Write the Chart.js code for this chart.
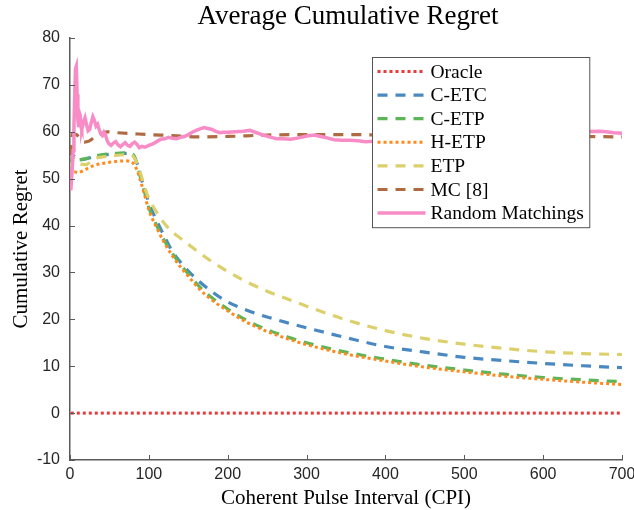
<!DOCTYPE html>
<html>
<head>
<meta charset="utf-8">
<script src="https://cdn.jsdelivr.net/npm/chart.js@4.4.1/dist/chart.umd.min.js"></script>
<style>
  html, body { margin: 0; padding: 0; background: #fff; }
  #regret { display: block; }
</style>
</head>
<body>
<canvas id="regret" width="634" height="510"></canvas>
<script>
// CPI sample points shared by the smooth explore/exploit curves
const cpiGrid = [1, 5, 10, 20, 30, 40, 50, 60, 70, 75, 80, 85, 90, 95, 100, 110, 120, 130, 140, 150,
  165, 180, 200, 225, 250, 275, 300, 350, 400, 450, 500, 550, 600, 650, 700];

const cEtc = [53.0, 54.8, 54.0, 54.2, 54.7, 55.0, 55.2, 55.3, 55.4, 55.4, 55.1, 53.3, 50.2, 47.5, 44.8, 41.0, 37.6, 34.4, 32.2, 30.3,
  27.9, 25.9, 23.7, 21.9, 20.5, 19.3, 18.2, 16.1, 14.2, 13.0, 11.9, 11.2, 10.6, 10.1, 9.7];
const cEtp = [53.0, 55.0, 54.0, 54.3, 54.8, 55.1, 55.3, 55.4, 55.5, 55.5, 55.2, 53.2, 49.8, 46.8, 43.8, 40.0, 36.7, 34.0, 31.7, 29.7,
  26.8, 24.6, 22.2, 19.7, 17.8, 16.3, 15.0, 13.0, 11.5, 10.2, 9.2, 8.3, 7.6, 7.1, 6.7];
const hEtp = [50.5, 51.5, 51.3, 52.0, 52.8, 53.2, 53.5, 53.7, 53.8, 53.7, 53.3, 51.8, 49.2, 46.3, 43.3, 39.5, 36.2, 33.5, 31.2, 29.2,
  26.3, 24.1, 21.8, 19.3, 17.4, 15.9, 14.6, 12.6, 11.1, 9.8, 8.8, 7.9, 7.2, 6.6, 6.1];
const etp = [52.5, 54.3, 53.3, 53.0, 54.2, 54.6, 54.8, 55.0, 55.1, 55.1, 54.8, 53.3, 50.8, 48.0, 45.8, 42.8, 40.4, 38.6, 37.3, 36.0,
  34.1, 32.3, 30.2, 27.9, 26.0, 24.4, 22.8, 19.9, 17.6, 15.9, 14.7, 13.8, 13.1, 12.7, 12.5];

const oracleCpi = [1, 700];
const oracle = [0, 0];

const mcCpi = [1, 3, 8, 13, 18, 24, 30, 38, 47, 60, 80, 100, 130, 160, 200, 250, 300, 350, 400, 450, 500, 550, 600, 650, 700];
const mc = [55.0, 59.5, 59.4, 58.5, 57.8, 58.0, 58.7, 59.5, 60.0, 59.8, 59.6, 59.4, 59.2, 58.9, 59.0, 59.3, 59.4, 59.4, 59.3, 59.2,
  59.2, 59.1, 59.1, 59.0, 58.9];

const randomCpi = [1, 2, 3, 4, 5, 6, 7, 8, 9, 10, 11, 12, 13, 14, 15, 17, 19, 21, 23, 25, 27, 29, 31, 33, 35, 37, 39, 41, 43, 45,
  47, 49, 52, 55, 58, 61, 64, 67, 70, 73, 76, 79, 82, 85, 88, 91, 95, 100, 105, 110, 115, 120, 125, 130, 135, 140, 145, 150,
  155, 160, 165, 170, 175, 180, 185, 190, 195, 200, 210, 220, 228, 235, 245, 255, 262, 270, 280, 290, 300, 310, 318, 326,
  335, 345, 355, 365, 375, 385, 400, 450, 500, 550, 600, 650, 670, 680, 690, 700];
const randomRegret = [47.5, 50.0, 52.5, 56.0, 61.0, 68.0, 73.5, 74.0, 68.0, 62.5, 61.0, 64.0, 63.5, 61.0, 60.5, 62.0, 63.0, 61.5,
  60.2, 60.5, 62.0, 63.2, 62.4, 61.2, 61.6, 60.5, 59.5, 59.2, 59.9, 59.3, 58.2, 57.5, 57.1, 57.6, 57.9, 57.2, 56.8, 57.3, 57.7,
  57.1, 56.9, 57.5, 57.8, 57.3, 56.6, 56.9, 56.7, 57.1, 57.4, 57.9, 58.4, 58.5, 58.8, 58.6, 58.5, 58.8, 59.0, 59.4, 59.9, 60.3,
  60.6, 60.9, 60.7, 60.5, 60.1, 59.8, 59.9, 59.9, 60.0, 60.1, 60.3, 59.9, 59.3, 58.8, 58.5, 58.5, 58.4, 58.7, 59.1, 59.3, 59.0,
  58.7, 58.3, 58.2, 58.2, 58.1, 57.9, 58.0, 58.4, 58.9, 59.3, 59.6, 59.9, 60.0, 60.1, 60.0, 59.8, 59.7];

const serif = '"Liberation Serif", "DejaVu Serif", serif';
const sans = '"Liberation Sans", Arial, sans-serif';
const axisColor = '#5a5a5a';
const textColor = '#262626';

function series(label, xs, ys, color, dash, width, order, smooth) {
  return {
    label: label,
    data: xs.map((x, i) => ({ x: x, y: ys[i] })),
    borderColor: color,
    borderWidth: width,
    borderDash: dash,
    borderCapStyle: 'butt',
    pointRadius: 0,
    fill: false,
    order: order,
    tension: 0,
    cubicInterpolationMode: smooth ? 'monotone' : 'default'
  };
}

const dotted = [3, 3];
const dashed = [10, 8];

const datasets = [
  series('Oracle', oracleCpi, oracle, '#e8393b', dotted, 3, 6, false),
  series('C-ETC', cpiGrid, cEtc, '#4a88c2', dashed, 3.2, 5, true),
  series('C-ETP', cpiGrid, cEtp, '#5db55a', dashed, 3.2, 4, true),
  series('H-ETP', cpiGrid, hEtp, '#ff8a1c', dotted, 3, 3, true),
  series('ETP', cpiGrid, etp, '#dcd06c', dashed, 3.2, 2, true),
  series('MC [8]', mcCpi, mc, '#b06a42', dashed, 3.2, 1, true),
  series('Random Matchings', randomCpi, randomRegret, '#f78cc6', [], 3.5, 0, false)
];

// title, axis labels, inward ticks and the boxed legend
const decor = {
  id: 'decor',
  afterDatasetsDraw(chart) {
    const ctx = chart.ctx;
    const items = chart.data.datasets;
    ctx.save();
    ctx.font = '19.5px ' + serif;
    const textW = Math.max(...items.map(d => ctx.measureText(d.label).width));
    const rowH = 23.6;
    const bx = 372.5, by = 57.5;
    const bw = 58 + textW + 6;
    const bh = items.length * rowH + 5;
    ctx.fillStyle = '#fff';
    ctx.fillRect(bx, by, bw, bh);
    ctx.strokeStyle = '#555';
    ctx.lineWidth = 1;
    ctx.strokeRect(bx, by, bw, bh);
    items.forEach((d, i) => {
      const cy = by + 14 + i * rowH;
      ctx.beginPath();
      ctx.setLineDash(d.borderDash);
      ctx.strokeStyle = d.borderColor;
      ctx.lineWidth = d.borderWidth;
      ctx.lineCap = 'butt';
      ctx.moveTo(bx + 5, cy);
      ctx.lineTo(bx + 53, cy);
      ctx.stroke();
      ctx.setLineDash([]);
      ctx.fillStyle = '#000';
      ctx.textBaseline = 'middle';
      ctx.textAlign = 'left';
      ctx.fillText(d.label, bx + 58, cy + 1);
    });
    ctx.restore();
  },
  afterDraw(chart) {
    const ctx = chart.ctx;
    const area = chart.chartArea;
    const xs = chart.scales.x, ys = chart.scales.y;
    const midX = (area.left + area.right) / 2;
    ctx.save();
    // tick marks point into the plot
    ctx.strokeStyle = axisColor;
    ctx.lineWidth = 1;
    ctx.beginPath();
    xs.ticks.forEach(t => {
      const px = Math.round(xs.getPixelForValue(t.value)) + 0.5;
      ctx.moveTo(px, area.bottom);
      ctx.lineTo(px, area.bottom - 5);
    });
    ys.ticks.forEach(t => {
      const py = Math.round(ys.getPixelForValue(t.value)) + 0.5;
      ctx.moveTo(area.left, py);
      ctx.lineTo(area.left + 5, py);
    });
    ctx.stroke();

    ctx.fillStyle = '#000';
    ctx.textAlign = 'center';
    ctx.textBaseline = 'alphabetic';
    ctx.font = '27px ' + serif;
    ctx.fillText('Average Cumulative Regret', midX + 2, 24);
    ctx.font = '21px ' + serif;
    ctx.fillText('Coherent Pulse Interval (CPI)', midX, 504);
    ctx.translate(27, (area.top + area.bottom) / 2);
    ctx.rotate(-Math.PI / 2);
    ctx.fillText('Cumulative Regret', 0, 0);
    ctx.restore();
  }
};

new Chart(document.getElementById('regret'), {
  type: 'line',
  data: { datasets: datasets },
  options: {
    responsive: false,
    animation: false,
    devicePixelRatio: 1,
    layout: { padding: { top: 38, right: 12, bottom: 0, left: 0 } },
    plugins: { legend: { display: false }, tooltip: { enabled: false } },
    scales: {
      x: {
        type: 'linear',
        min: 0,
        max: 700,
        ticks: { stepSize: 100, maxRotation: 0, color: textColor, padding: 5, font: { family: sans, size: 16 } },
        grid: { drawOnChartArea: false, drawTicks: false },
        border: { color: axisColor, width: 1.5 },
        afterFit(s) { s.height = 50; s.paddingLeft = 0; s.paddingRight = 0; }
      },
      y: {
        min: -10,
        max: 80,
        ticks: { stepSize: 10, color: textColor, padding: 10, font: { family: sans, size: 16 } },
        grid: { drawOnChartArea: false, drawTicks: false },
        border: { color: axisColor, width: 1.5 },
        afterFit(s) { s.width = 70; s.paddingTop = 0; s.paddingBottom = 0; }
      }
    }
  },
  plugins: [decor]
});
</script>
</body>
</html>
